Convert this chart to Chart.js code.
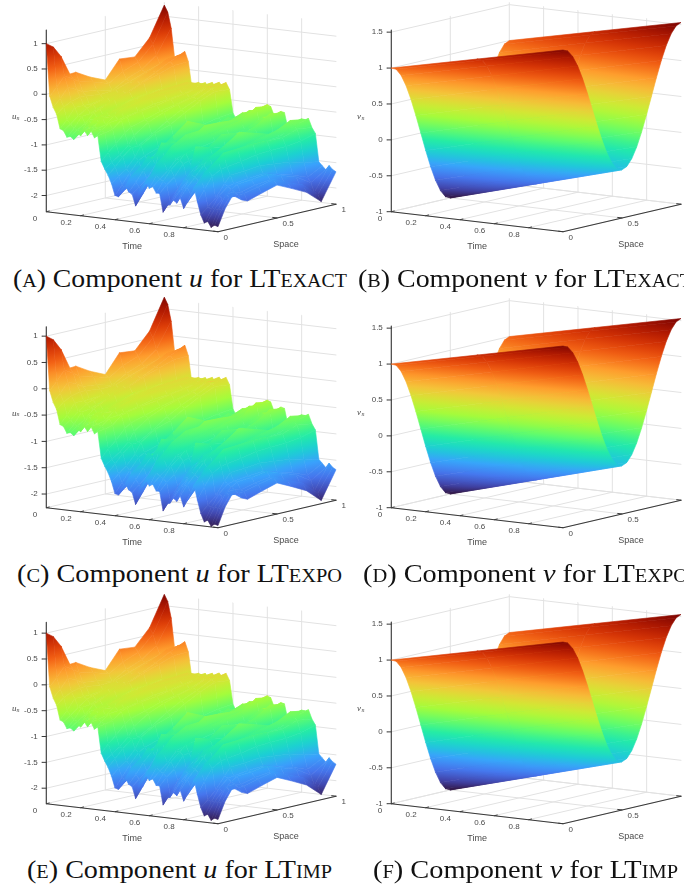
<!DOCTYPE html>
<html>
<head>
<meta charset="utf-8">
<title>Components u and v</title>
<script src="https://cdn.jsdelivr.net/npm/chart.js@4"></script>
<style>
html, body { margin: 0; padding: 0; background: #fff; }
#pagina { position: relative; width: 684px; height: 886px; overflow: hidden; background: #fff; }
#pagina canvas { position: absolute; }
.caption {
    position: absolute; white-space: nowrap; color: #111; line-height: 28px;
    font-family: "Liberation Serif", serif; font-size: 25px; transform-origin: left center;
}
.caption span { font-variant: small-caps; }
</style>
</head>
<body>
<div id="pagina"></div>
<script>
// DATOS
const timeTicks = [0, 0.2, 0.4, 0.6, 0.8];
const spaceTicks = [0, 0.5, 1];
const uTicks = [-2, -1.5, -1, -0.5, 0, 0.5, 1];
const vTicks = [-1, -0.5, 0, 0.5, 1, 1.5];

const uTime = [0, 0.02, 0.04, 0.06, 0.08, 0.1, 0.12, 0.14, 0.16, 0.18, 0.2, 0.22, 0.24, 0.26, 0.28, 0.3, 0.32, 0.34, 0.36, 0.38, 0.4, 0.42, 0.44, 0.46, 0.48, 0.5, 0.52, 0.54, 0.56, 0.58, 0.6, 0.62, 0.64, 0.66, 0.68, 0.7, 0.72, 0.74, 0.76, 0.78, 0.8, 0.82, 0.84, 0.86, 0.88, 0.9, 0.92, 0.94, 0.96, 0.98, 1];
const uSpace = [0, 0.06, 0.125, 0.2, 0.25, 0.37, 0.5, 0.62, 0.75, 0.875, 1];

// u(t, s) en cada fila de espacio
const uS000 = [1, -0.03, -0.24, -0.37, -0.65, -0.68, -0.8, -0.78, -0.83, -0.7, -0.74, -0.63, -0.72, -0.62, -0.75, -0.7, -1.2, -1.34, -1.46, -1.62, -1.84, -1.86, -1.7, -1.63, -1.74, -1.78, -2, -1.7, -1.66, -1.52, -1.62, -1.58, -1.7, -1.7, -2.06, -1.92, -1.9, -1.8, -1.85, -1.74, -1.94, -1.82, -1.7, -1.5, -1.78, -2.03, -2.18, -2.14, -2.25, -2.2, -2.22];
const uS060 = [0.9, 0.12, -0.1, -0.26, -0.5, -0.58, -0.66, -0.68, -0.72, -0.64, -0.6, -0.6, -0.58, -0.6, -0.64, -0.68, -1.05, -1.24, -1.32, -1.5, -1.66, -1.74, -1.6, -1.44, -1.58, -1.66, -1.8, -1.52, -1.46, -1.36, -1.4, -1.46, -1.5, -1.56, -1.88, -1.76, -1.68, -1.62, -1.6, -1.56, -1.7, -1.66, -1.46, -1.38, -1.56, -1.9, -1.94, -1.92, -1.94, -1.92, -1.9];
const uS125 = [0.68, 0.3, 0.08, -0.18, -0.3, -0.46, -0.46, -0.59, -0.52, -0.58, -0.46, -0.54, -0.44, -0.56, -0.52, -0.64, -0.92, -1.14, -1.16, -1.39, -1.46, -1.64, -1.41, -1.34, -1.38, -1.54, -1.58, -1.39, -1.21, -1.22, -1.18, -1.34, -1.3, -1.44, -1.66, -1.62, -1.46, -1.48, -1.36, -1.4, -1.46, -1.5, -1.26, -1.24, -1.34, -1.76, -1.71, -1.76, -1.66, -1.72, -1.67];
const uS200 = [0.29, 0.2, 0, -0.14, -0.3, -0.34, -0.44, -0.42, -0.52, -0.46, -0.46, -0.42, -0.46, -0.42, -0.5, -0.5, -0.74, -0.98, -1.02, -1.2, -1.26, -1.44, -1.28, -1.14, -1.2, -1.3, -1.44, -1.18, -1.06, -1.02, -1.06, -1.14, -1.16, -1.22, -1.48, -1.32, -1.3, -1.26, -1.2, -1.2, -1.3, -1.26, -1.14, -1.06, -1.24, -1.52, -1.56, -1.62, -1.66, -1.72, -1.8];
const uS250 = [0.3, 0.12, -0.07, -0.14, -0.3, -0.3, -0.39, -0.37, -0.48, -0.43, -0.45, -0.37, -0.45, -0.35, -0.48, -0.46, -0.66, -0.81, -1.02, -1, -1.19, -1.26, -1.26, -1.2, -1.05, -0.9, -1.26, -1.14, -0.94, -0.96, -0.96, -1.09, -1.04, -1.19, -1.34, -0.9, -1.24, -1.12, -1.14, -1.08, -1.26, -1.14, -1.09, -0.96, -1.22, -1.38, -1.54, -1.54, -1.69, -1.71, -1.85];
const uS370 = [0.14, 0.05, -0.1, -0.18, -0.27, -0.22, -0.31, -0.24, -0.4, -0.34, -0.4, -0.3, -0.4, -0.28, -0.43, -0.41, -0.58, -0.62, -0.86, -0.82, -1.1, -1.12, -1.16, -0.98, -0.86, -0.98, -1.22, -0.96, -0.78, -0.86, -0.9, -0.94, -1, -1.1, -1.02, -0.98, -1.18, -1.06, -1.1, -0.92, -1.14, -1.04, -1.02, -0.94, -1.18, -1.36, -1.5, -1.52, -1.62, -1.64, -1.76];
const uS500 = [0.01, -0.05, -0.18, -0.16, -0.23, -0.17, -0.2, -0.16, -0.29, -0.27, -0.33, -0.25, -0.33, -0.23, -0.36, -0.37, -0.48, -0.49, -0.65, -0.72, -0.98, -1.02, -1.04, -0.8, -0.62, -1, -1.14, -0.82, -0.76, -0.66, -0.82, -0.82, -0.94, -1, -0.8, -1.03, -1.08, -1.02, -1.01, -0.72, -1.03, -0.95, -0.95, -0.92, -1.12, -1.33, -1.48, -1.47, -1.58, -1.57, -1.67];
const uS620 = [0.36, 0.12, -0.02, -0.06, -0.1, -0.02, -0.08, -0.04, -0.27, -0.24, -0.3, -0.2, -0.29, -0.22, -0.33, -0.31, -0.42, -0.4, -0.5, -0.55, -0.9, -0.97, -1, -0.82, -0.74, -0.96, -1.02, -0.78, -0.78, -0.67, -0.78, -0.74, -0.9, -0.9, -0.84, -0.9, -1.06, -1.02, -1.02, -0.8, -0.97, -0.88, -0.94, -0.92, -1.1, -1.36, -1.56, -1.57, -1.7, -1.7, -1.8];
const uS750 = [0.33, 0.24, 0.1, 0.05, 0.03, 0.1, 0.07, 0.05, -0.23, -0.22, -0.27, -0.17, -0.25, -0.21, -0.29, -0.27, -0.35, -0.32, -0.37, -0.39, -0.84, -0.92, -0.96, -0.85, -0.9, -0.92, -0.94, -0.75, -0.8, -0.69, -0.74, -0.69, -0.86, -0.81, -0.9, -0.77, -1.04, -1.02, -1.04, -0.89, -0.92, -0.82, -0.92, -0.92, -1.09, -1.39, -1.64, -1.67, -1.82, -1.82, -1.95];
const uS875 = [0.64, 0.52, 0.31, 0.15, 0.14, 0.25, 0.22, 0.15, -0.28, -0.25, -0.25, -0.15, -0.23, -0.21, -0.23, -0.19, -0.23, -0.19, -0.23, -0.27, -0.78, -0.83, -0.83, -0.75, -0.91, -0.87, -0.75, -0.63, -0.65, -0.57, -0.58, -0.49, -0.78, -0.67, -0.71, -0.59, -0.98, -0.95, -0.95, -0.81, -0.79, -0.67, -0.77, -0.82, -1.05, -1.47, -1.75, -1.85, -2.03, -2.07, -2.2];
const uS1000 = [1.22, 1.09, 0.78, 0.2, 0.26, 0.28, 0.35, 0.16, -0.33, -0.38, -0.23, -0.26, -0.22, -0.31, -0.2, -0.29, -0.18, -0.26, -0.17, -0.3, -0.75, -0.88, -0.79, -0.84, -0.87, -0.94, -0.66, -0.67, -0.58, -0.62, -0.51, -0.54, -0.71, -0.72, -0.61, -0.63, -0.93, -1.01, -0.88, -0.85, -0.71, -0.72, -0.69, -0.86, -0.97, -1.52, -1.59, -1.66, -1.57, -1.64, -1.68];

const vTime = [0, 0.5, 1];
const vSpace = [0, 0.0417, 0.0833, 0.125, 0.1667, 0.2083, 0.25, 0.2917, 0.3333, 0.375, 0.4167, 0.4583, 0.5, 0.5417, 0.5833, 0.625, 0.6667, 0.7083, 0.75, 0.7917, 0.8333, 0.875, 0.9167, 0.9583, 1];
// v(t, s) en cada columna de tiempo
const vT00 = [1, 0.966, 0.866, 0.707, 0.5, 0.259, 0, -0.259, -0.5, -0.707, -0.866, -0.966, -1, -0.966, -0.866, -0.707, -0.5, -0.259, 0, 0.259, 0.5, 0.707, 0.866, 0.966, 1];
const vT05 = [1.265, 1.232, 1.136, 0.982, 0.783, 0.55, 0.3, 0.05, -0.183, -0.382, -0.536, -0.632, -0.665, -0.632, -0.536, -0.382, -0.183, 0.05, 0.3, 0.55, 0.783, 0.982, 1.136, 1.232, 1.265];
const vT10 = [1.53, 1.498, 1.405, 1.258, 1.065, 0.841, 0.6, 0.359, 0.135, -0.058, -0.205, -0.298, -0.33, -0.298, -0.205, -0.058, 0.135, 0.359, 0.6, 0.841, 1.065, 1.258, 1.405, 1.498, 1.53];

const colormap = ['#30123b', '#4145ab', '#4675ed', '#39a2fc', '#1bcfd4', '#24eca6', '#61fc6c', '#a4fc3b', '#d1e834', '#f3c63a', '#fe9b2d', '#f36315', '#d93806', '#b11901', '#7a0402'];

const uRows = [uS000, uS060, uS125, uS200, uS250, uS370, uS500, uS620, uS750, uS875, uS1000];
const vCols = [vT00, vT05, vT10];

// cajas de cada panel, en pixeles
const panels = [
    { letra: 'a', comp: 'u', metodo: 'exact', left: 0, top: 0, floor: 211.7, techo: 30, zMin: -2.32, zMax: 1.27, capLeft: 13, capTop: 265, capAncho: 334 },
    { letra: 'b', comp: 'v', metodo: 'exact', left: 345, top: 0, floor: 211.7, techo: 30, zMin: -1, zMax: 1.53, capLeft: 358, capTop: 265, capAncho: 334 },
    { letra: 'c', comp: 'u', metodo: 'expo', left: 0, top: 295, floor: 212.7, techo: 31.7, zMin: -2.26, zMax: 1.18, capLeft: 17, capTop: 560, capAncho: 325 },
    { letra: 'd', comp: 'v', metodo: 'expo', left: 345, top: 295, floor: 212.7, techo: 31, zMin: -1, zMax: 1.53, capLeft: 363, capTop: 560, capAncho: 325 },
    { letra: 'e', comp: 'u', metodo: 'imp', left: 0, top: 590, floor: 213.7, techo: 32.3, zMin: -2.3, zMax: 1.21, capLeft: 27, capTop: 856, capAncho: 305 },
    { letra: 'f', comp: 'v', metodo: 'imp', left: 345, top: 590, floor: 213.7, techo: 32, zMin: -1, zMax: 1.53, capLeft: 373, capTop: 856, capAncho: 305 }
];

const ANCHO = 350, ALTO = 262;
const ORIGEN_X = 46.3;

function proyectar(p, t, s, z) {
    let escala = (p.floor - p.techo) / (p.zMax - p.zMin);
    return {
        x: ORIGEN_X + t * 171.7 + s * 118,
        y: p.floor + t * 20 - s * 27.5 - (z - p.zMin) * escala
    };
}

function mezclar(a, b, f) {
    let pa = [1, 3, 5].map(i => parseInt(a.substr(i, 2), 16));
    let pb = [1, 3, 5].map(i => parseInt(b.substr(i, 2), 16));
    let c = pa.map((v, i) => Math.round(v + (pb[i] - v) * f));
    return `rgb(${c[0]},${c[1]},${c[2]})`;
}

function colorDe(z, lo, hi) {
    let f = Math.min(1, Math.max(0, (z - lo) / (hi - lo))) * (colormap.length - 1);
    let i = Math.min(colormap.length - 2, Math.floor(f));
    return mezclar(colormap[i], colormap[i + 1], f - i);
}

// Degradado del mapa de color para un cuadrilatero (p00, p10, p11, p01)
function degradado(ctx, q, lo, hi) {
    let [a, b, c, d] = q;
    let zs = q.map(k => k.z);
    let zMed = (a.z + b.z + c.z + d.z) / 4;
    let cx = (a.x + b.x + c.x + d.x) / 4, cy = (a.y + b.y + c.y + d.y) / 4;
    let d1x = c.x - a.x, d1y = c.y - a.y, dz1 = c.z - a.z;
    let d2x = b.x - d.x, d2y = b.y - d.y, dz2 = b.z - d.z;
    let det = d1x * d2y - d1y * d2x;
    if (Math.abs(det) < 0.01) return colorDe(zMed, lo, hi);
    let gx = (dz1 * d2y - dz2 * d1y) / det;
    let gy = (d1x * dz2 - d2x * dz1) / det;
    let g2 = gx * gx + gy * gy;
    if (g2 < 1e-7) return colorDe(zMed, lo, hi);
    let zA = Math.min(...zs) - 0.05, zB = Math.max(...zs) + 0.05;
    let grad = ctx.createLinearGradient(
        cx + gx * (zA - zMed) / g2, cy + gy * (zA - zMed) / g2,
        cx + gx * (zB - zMed) / g2, cy + gy * (zB - zMed) / g2
    );
    for (let k = 0; k <= 6; k++) grad.addColorStop(k / 6, colorDe(zA + (zB - zA) * k / 6, lo, hi));
    return grad;
}

// Malla de la superficie, de atras hacia adelante
function mallaSuperficie(p, ctx, tiempos, espacios, valor, lo, hi) {
    let lista = [];
    for (let i = 0; i < tiempos.length - 1; i++) {
        for (let j = espacios.length - 2; j >= 0; j--) {
            let q = [[i, j], [i + 1, j], [i + 1, j + 1], [i, j + 1]].map(([a, b]) => {
                let z = valor(a, b);
                return { ...proyectar(p, tiempos[a], espacios[b], z), z: z };
            });
            let color = degradado(ctx, q, lo, hi);
            lista.push({
                data: [...q, q[0]].map(k => ({ x: k.x, y: k.y })),
                fill: 'shape', backgroundColor: color, borderColor: color, borderWidth: 0.6
            });
        }
    }
    return lista;
}

function linea(puntos, color, ancho) {
    return { data: puntos, fill: false, borderColor: color, borderWidth: ancho };
}

function rejilla(p, zTicks) {
    let gris = '#e2e2e2', lista = [];
    zTicks.forEach(z => lista.push(linea([proyectar(p, 0, 0, z), proyectar(p, 0, 1, z), proyectar(p, 1, 1, z)], gris, 1)));
    spaceTicks.forEach(s => {
        if (s < 1) lista.push(linea([proyectar(p, 0, s, p.zMin), proyectar(p, 0, s, p.zMax)], gris, 1));
        lista.push(linea([proyectar(p, 0, s, p.zMin), proyectar(p, 1, s, p.zMin)], gris, 1));
    });
    [...timeTicks, 1].forEach(t => {
        if (t < 1) lista.push(linea([proyectar(p, t, 1, p.zMin), proyectar(p, t, 1, p.zMax)], gris, 1));
        lista.push(linea([proyectar(p, t, 0, p.zMin), proyectar(p, t, 1, p.zMin)], gris, 1));
    });
    return lista;
}

function ejes(p, zTicks) {
    let negro = '#3a3a3a', lista = [];
    lista.push(linea([proyectar(p, 0, 0, p.zMax), proyectar(p, 0, 0, p.zMin), proyectar(p, 1, 0, p.zMin), proyectar(p, 1, 1, p.zMin)], negro, 1.1));
    zTicks.forEach(z => {
        let c = proyectar(p, 0, 0, z);
        lista.push(linea([{ x: c.x - 4.5, y: c.y }, c], negro, 1));
    });
    timeTicks.forEach(t => lista.push(linea([proyectar(p, t, 0, p.zMin), proyectar(p, t, 0.025, p.zMin)], negro, 1)));
    spaceTicks.forEach(s => lista.push(linea([proyectar(p, 1, s, p.zMin), proyectar(p, 0.975, s, p.zMin)], negro, 1)));
    return lista;
}

// Textos de los ejes
const textoEjes = {
    id: 'textoEjes',
    afterDraw(chart) {
        let p = chart.options.plugins.textoEjes.panel;
        let zTicks = chart.options.plugins.textoEjes.zTicks;
        let ctx = chart.ctx;
        let px = chart.scales.x, py = chart.scales.y;
        let poner = (txt, x, y, al) => {
            ctx.textAlign = al;
            ctx.fillText(txt, px.getPixelForValue(x), py.getPixelForValue(y));
        };
        ctx.save();
        ctx.fillStyle = '#4a4a4a';
        ctx.textBaseline = 'middle';
        ctx.font = '8px "Liberation Sans"';
        zTicks.forEach(z => {
            let c = proyectar(p, 0, 0, z);
            poner(String(z), c.x - 8.5, c.y, 'right');
        });
        timeTicks.forEach(t => {
            let c = proyectar(p, t, 0, p.zMin);
            poner(String(t), c.x - 9, c.y + 7.5, 'right');
        });
        spaceTicks.forEach(s => {
            let c = proyectar(p, 1, s, p.zMin);
            poner(String(s), c.x + 5.5, c.y + 5.7, 'left');
        });
        ctx.font = '9px "Liberation Sans"';
        let ct = proyectar(p, 0.5, 0, p.zMin);
        poner('Time', ct.x, ct.y + 25, 'center');
        let cs = proyectar(p, 1, 0.5, p.zMin);
        poner('Space', cs.x + 9, cs.y + 27, 'center');
        let ym = (p.floor + p.techo) / 2 - 4;
        ctx.font = 'italic 9px "Liberation Serif"';
        poner(p.comp, 12, ym, 'left');
        ctx.font = 'italic 6px "Liberation Serif"';
        poner('n', 16.6, ym + 1.5, 'left');
        ctx.restore();
    }
};

function dibujarPanel(p) {
    let pagina = document.getElementById('pagina');
    let canvas = document.createElement('canvas');
    canvas.width = ANCHO;
    canvas.height = ALTO;
    canvas.style.left = p.left + 'px';
    canvas.style.top = p.top + 'px';
    pagina.appendChild(canvas);
    let ctx = canvas.getContext('2d');

    let esU = p.comp === 'u';
    let zTicks = esU ? uTicks : vTicks;
    let lo = esU ? -2.3 : -1;
    let hi = esU ? 1.24 : 1.54;
    let malla = esU
        ? mallaSuperficie(p, ctx, uTime, uSpace, (a, b) => uRows[b][a], lo, hi)
        : mallaSuperficie(p, ctx, vTime, vSpace, (a, b) => vCols[a][b], lo, hi);

    // El primer dataset se pinta encima: se invierte el orden de pintado
    let pintado = [...rejilla(p, zTicks), ...ejes(p, zTicks), ...malla];

    new Chart(ctx, {
        type: 'line',
        data: { datasets: pintado.reverse() },
        options: {
            responsive: false,
            animation: false,
            events: [],
            layout: { padding: 0 },
            elements: { point: { radius: 0 }, line: { tension: 0, borderJoinStyle: 'round', borderCapStyle: 'round' } },
            plugins: { legend: { display: false }, tooltip: { enabled: false }, textoEjes: { panel: p, zTicks: zTicks } },
            scales: {
                x: { type: 'linear', display: false, min: 0, max: ANCHO },
                y: { type: 'linear', display: false, min: 0, max: ALTO, reverse: true }
            }
        },
        plugins: [textoEjes]
    });

    let cap = document.createElement('div');
    cap.className = 'caption';
    cap.style.left = p.capLeft + 'px';
    cap.style.top = p.capTop + 'px';
    cap.innerHTML = `<span>(${p.letra})</span> Component <i>${p.comp}</i> for LT<span>${p.metodo}</span>`;
    pagina.appendChild(cap);
    // Estirar el texto para que ocupe lo mismo que en la figura
    cap.style.transform = `scaleX(${p.capAncho / cap.getBoundingClientRect().width})`;
}

panels.forEach(dibujarPanel);
</script>
</body>
</html>
